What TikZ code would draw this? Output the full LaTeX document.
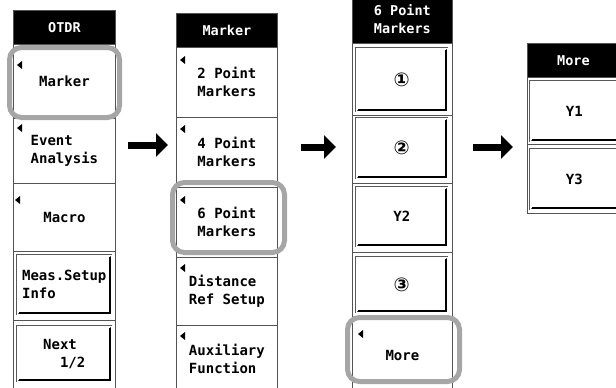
\documentclass[tikz,border=0pt]{standalone}
\usepackage{fontspec}
\setmainfont{DejaVu Sans Mono}
\newfontfamily\symfont{DejaVu Sans}
\usetikzlibrary{arrows.meta,calc}
\newcommand\mtri[2]{\fill ($(#1.north west)+(#2)$) -- ++(5,-4) -- ++(0,8) -- cycle;}
\newcommand\bevel[1]{\draw[line width=2.4pt,black] ([xshift=-1.6pt,yshift=-2pt]#1.north east) -- ([xshift=-1.6pt,yshift=1.6pt]#1.south east) -- ([xshift=2pt,yshift=1.6pt]#1.south west);}
\newcommand\cdig[1]{{\symfont\fontsize{19}{19}\selectfont #1}}
\begin{document}
\begin{tikzpicture}[x=1pt,y=-1pt,
  slot/.style={draw=gray!65!black,line width=0.8pt,fill=white,inner sep=0pt,anchor=north west,
    font=\fontsize{14}{18}\selectfont\bfseries,align=left},
  hdr/.style={draw=gray!65!black,line width=0.8pt,fill=black,text=white,inner sep=0pt,anchor=north west,
    font=\fontsize{13.5}{18.5}\selectfont\bfseries,align=center},
  btn/.style={draw=gray!70!black,line width=0.5pt,double=white,double distance=1.2pt,fill=white,
    inner sep=0pt,anchor=north west,font=\fontsize{14}{18}\selectfont\bfseries,align=left},
  hl/.style={draw=gray!70,line width=5pt,rounded corners=12pt,inner sep=0pt},
  bigarrow/.style={line width=7pt,-{Triangle[width=23pt,length=12pt]}}]
\useasboundingbox (0,0) rectangle (616,388);
\clip (0,0) rectangle (616,388);
% column 1
\node[hdr,minimum width=102,minimum height=34] (h1) at (13,10) {OTDR};
\node[slot,minimum width=102,minimum height=74] (s1a) at (13,44) {Marker};
\node[slot,minimum width=102,minimum height=65] (s1b) at (13,118) {Event\\Analysis};
\node[slot,minimum width=102,minimum height=68] (s1c) at (13,183) {Macro};
\node[slot,minimum width=102,minimum height=69] (s1d) at (13,251) {};
\node[slot,minimum width=102,minimum height=72] (s1e) at (13,320) {};
\node[btn,minimum width=94,minimum height=59] (b1d) at (17,255) {Meas.Setup\\Info};
\node[btn,minimum width=94,minimum height=55] (b1e) at (17,326) {Next\\\phantom{00}1/2};
\bevel{b1d}\bevel{b1e}
\mtri{s1a}{4,21}\mtri{s1b}{4,10}\mtri{s1c}{2,17}
% column 2
\node[hdr,minimum width=101,minimum height=34] (h2) at (176,13) {Marker};
\node[slot,minimum width=101,minimum height=70] (s2a) at (176,47) {2 Point\\Markers};
\node[slot,minimum width=101,minimum height=70] (s2b) at (176,117) {4 Point\\Markers};
\node[slot,minimum width=101,minimum height=70] (s2c) at (176,187) {6 Point\\Markers};
\node[slot,minimum width=101,minimum height=68] (s2d) at (176,257) {Distance\\Ref Setup};
\node[slot,minimum width=101,minimum height=67] (s2e) at (176,325) {Auxiliary\\Function};
\mtri{s2a}{4,13}\mtri{s2b}{4,12}\mtri{s2c}{4,13}\mtri{s2d}{4,11}\mtri{s2e}{4,11}
% column 3
\node[hdr,minimum width=100,minimum height=49] (h3) at (352,-6) {6 Point\\Markers};
\node[slot,minimum width=100,minimum height=72] (s3a) at (352,43) {};
\node[slot,minimum width=100,minimum height=68] (s3b) at (352,115) {};
\node[slot,minimum width=100,minimum height=69] (s3c) at (352,183) {};
\node[slot,minimum width=100,minimum height=66] (s3d) at (352,252) {};
\node[slot,minimum width=100,minimum height=74] (s3e) at (352,318) {More};
\node[btn,minimum width=91,minimum height=63] (b3a) at (356,48) {\cdig{①}};
\node[btn,minimum width=91,minimum height=60] (b3b) at (356,118) {\cdig{②}};
\node[btn,minimum width=91,minimum height=59] (b3c) at (356,187) {Y2};
\node[btn,minimum width=91,minimum height=55] (b3d) at (356,257) {\cdig{③}};
\bevel{b3a}\bevel{b3b}\bevel{b3c}\bevel{b3d}
\mtri{s3e}{6,16}
% column 4
\node[hdr,minimum width=92,minimum height=34] (h4) at (527,43) {More};
\node[slot,minimum width=92,minimum height=67] (s4a) at (527,77) {};
\node[slot,minimum width=92,minimum height=69] (s4b) at (527,144) {};
\node[btn,minimum width=88,minimum height=60] (b4a) at (530,81) {Y1};
\node[btn,minimum width=88,minimum height=60] (b4b) at (530,149) {Y3};
\bevel{b4a}\bevel{b4b}
% highlights
\node[hl,minimum width=110,minimum height=70] (hl1) at (64.5,82.5) {};
\node[hl,minimum width=112,minimum height=70] (hl2) at (228.5,217.5) {};
\node[hl,minimum width=112,minimum height=64] (hl3) at (403.5,349.5) {};
% arrows
\coordinate (a1s) at (128,145); \coordinate (a1e) at (168,145);
\coordinate (a2s) at (301,147); \coordinate (a2e) at (336,147);
\coordinate (a3s) at (473,147); \coordinate (a3e) at (513,147);
\draw[bigarrow] (a1s) -- (a1e);
\draw[bigarrow] (a2s) -- (a2e);
\draw[bigarrow] (a3s) -- (a3e);
\end{tikzpicture}
\end{document}
